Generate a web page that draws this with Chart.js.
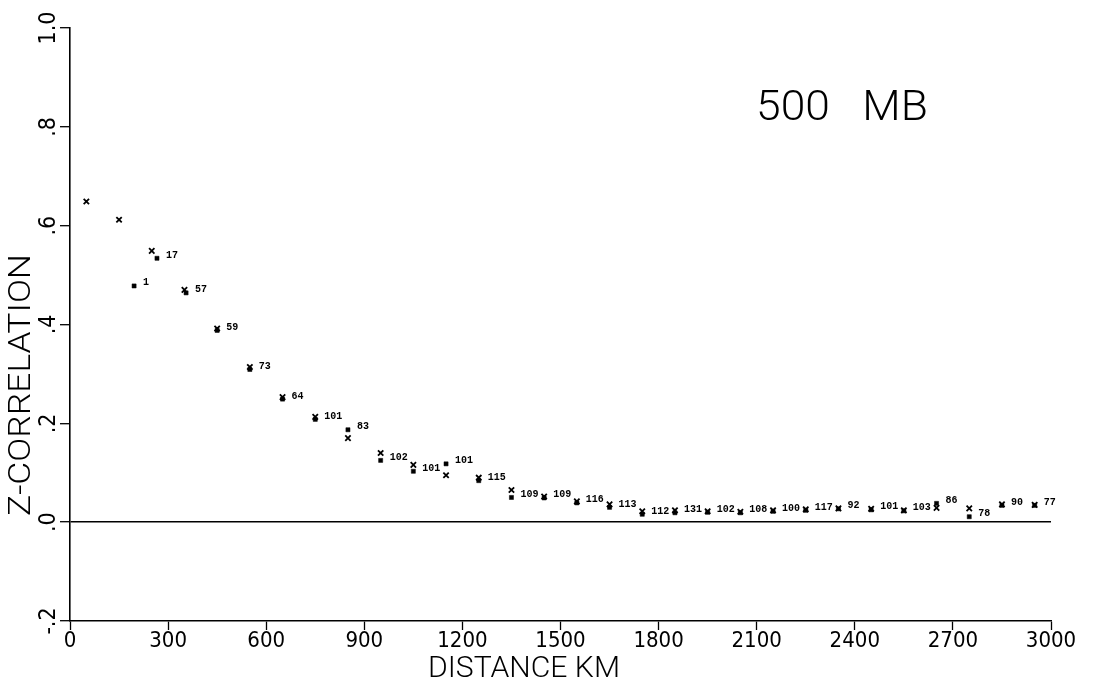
<!DOCTYPE html>
<html>
<head>
<meta charset="utf-8">
<title>500 MB Z-correlation vs distance</title>
<script src="https://cdn.jsdelivr.net/npm/chart.js@4.4.1/dist/chart.umd.min.js"></script>
<style>
  html, body { margin: 0; padding: 0; background: #fff; }
  #wrap { width: 1096px; height: 686px; position: relative; }
</style>
</head>
<body>
<div id="wrap"><canvas id="chart"></canvas></div>
<script>
// Axis ticks and their printed labels
const distanceTicks = [0, 300, 600, 900, 1200, 1500, 1800, 2100, 2400, 2700, 3000];
const xTickLabels = ['0', '300', '600', '900', '1200', '1500', '1800', '2100', '2400', '2700', '3000'];
const corrTicks = [-0.2, 0, 0.2, 0.4, 0.6, 0.8, 1.0];
const yTickLabels = ['-.2', '.0', '.2', '.4', '.6', '.8', '1.0'];

// "x" marks: correlation at the centre of each 100 km distance class
const crossDist = [50, 150, 250, 350, 450, 550, 650, 750, 850, 950, 1050, 1150, 1250, 1350, 1450,
                   1550, 1650, 1750, 1850, 1950, 2050, 2150, 2250, 2350, 2450, 2550, 2650, 2750, 2850, 2950];
const crossCorr = [0.649, 0.612, 0.549, 0.470, 0.392, 0.314, 0.253, 0.213, 0.170, 0.140, 0.116, 0.095, 0.090, 0.065, 0.052,
                   0.042, 0.036, 0.022, 0.024, 0.022, 0.021, 0.024, 0.026, 0.028, 0.027, 0.024, 0.029, 0.028, 0.036, 0.035];

// Filled squares: mean correlation of the station pairs in each class
const squareDist = [196, 266, 355, 450, 550, 650, 750, 850, 950, 1050, 1150, 1250, 1350, 1450,
                    1550, 1650, 1750, 1850, 1950, 2050, 2150, 2250, 2350, 2450, 2550, 2650, 2750, 2850, 2950];
const squareCorr = [0.478, 0.534, 0.464, 0.388, 0.309, 0.249, 0.208, 0.187, 0.125, 0.103, 0.118, 0.084, 0.050, 0.049,
                    0.039, 0.030, 0.016, 0.019, 0.020, 0.019, 0.022, 0.024, 0.027, 0.025, 0.023, 0.038, 0.011, 0.034, 0.034];

// Number of station pairs in each class, printed beside the squares
const pairCounts = ['1', '17', '57', '59', '73', '64', '101', '83', '102', '101', '101', '115', '109', '109',
                    '116', '113', '112', '131', '102', '108', '100', '117', '92', '101', '103', '86', '78', '90', '77'];

const tickFont = { family: '"Liberation Sans Narrow", "DejaVu Sans Condensed", Roboto, sans-serif', size: 22, lineHeight: 1 };
const yTickFont = { family: '"Liberation Sans Narrow", "DejaVu Sans Condensed", Roboto, sans-serif', size: 23, lineHeight: 1 };
const titleFamily = 'Roboto, "DejaVu Sans", sans-serif';

// Draw a text string squeezed/stretched to a given width, optionally rotated
function drawFitted(ctx, text, cx, cy, fontPx, width, rotation) {
  ctx.save();
  ctx.font = '300 ' + fontPx + 'px ' + titleFamily;
  const w = ctx.measureText(text).width;
  ctx.translate(cx, cy);
  ctx.rotate(rotation || 0);
  ctx.scale(width / w, 1);
  ctx.textAlign = 'center';
  ctx.textBaseline = 'middle';
  ctx.fillText(text, 0, 0);
  ctx.restore();
}

const annotate = {
  id: 'annotate',
  afterDatasetsDraw(chart) {
    const ctx = chart.ctx;
    const meta = chart.getDatasetMeta(1);
    ctx.save();
    ctx.fillStyle = '#000';
    ctx.font = 'bold 10px "Liberation Mono", "DejaVu Sans Mono", monospace';
    ctx.textAlign = 'left';
    ctx.textBaseline = 'middle';
    meta.data.forEach((pt, i) => {
      ctx.fillText(pairCounts[i], pt.x + 9, pt.y - 3);
    });
    ctx.restore();

    ctx.save();
    ctx.fillStyle = '#000';
    drawFitted(ctx, '500   MB', 842, 109, 43, 172, 0);
    drawFitted(ctx, 'DISTANCE KM', 524, 669, 30, 192, 0);
    drawFitted(ctx, 'Z-CORRELATION', 22, 385, 31, 262, -Math.PI / 2);
    ctx.restore();
  }
};

new Chart(document.getElementById('chart'), {
  type: 'scatter',
  data: {
    datasets: [
      {
        label: 'bin centre',
        data: crossDist.map((d, i) => ({ x: d, y: crossCorr[i] })),
        pointStyle: 'crossRot',
        pointRadius: 3.8,
        pointBorderWidth: 1.8,
        borderColor: '#000',
        backgroundColor: '#000'
      },
      {
        label: 'pair mean',
        data: squareDist.map((d, i) => ({ x: d, y: squareCorr[i] })),
        pointStyle: 'rect',
        pointRadius: 2.9,
        pointBorderWidth: 0.5,
        borderColor: '#000',
        backgroundColor: '#000'
      }
    ]
  },
  options: {
    responsive: true,
    maintainAspectRatio: false,
    animation: false,
    layout: { padding: { top: 28, right: 45, left: 0, bottom: 0 } },
    plugins: { legend: { display: false }, tooltip: { enabled: false } },
    scales: {
      x: {
        type: 'linear',
        min: 0,
        max: 3000,
        afterBuildTicks: s => { s.ticks = distanceTicks.map(v => ({ value: v })); },
        afterFit: s => { s.height = 65; },
        border: { display: true, color: '#000', width: 1.6 },
        grid: { drawOnChartArea: false, drawTicks: true, tickLength: 9, tickColor: '#000', tickWidth: 1.3 },
        ticks: {
          color: '#000',
          font: tickFont,
          padding: 0,
          maxRotation: 0,
          autoSkip: false,
          callback: (v, i) => xTickLabels[i]
        }
      },
      y: {
        type: 'linear',
        min: -0.2,
        max: 1.0,
        afterBuildTicks: s => { s.ticks = corrTicks.map(v => ({ value: v })); },
        afterFit: s => { s.width = 70; },
        border: { display: true, color: '#000', width: 1.6 },
        grid: {
          drawOnChartArea: true,
          drawTicks: true,
          tickLength: 10,
          tickColor: '#000',
          tickWidth: 1.3,
          lineWidth: 1.4,
          color: c => (c.tick && Math.abs(c.tick.value) < 1e-9) ? '#000' : 'rgba(0,0,0,0)'
        },
        ticks: {
          color: '#000',
          font: yTickFont,
          padding: -5,
          minRotation: 90,
          maxRotation: 90,
          crossAlign: 'center',
          autoSkip: false,
          callback: (v, i) => yTickLabels[i]
        }
      }
    }
  },
  plugins: [annotate]
});
</script>
</body>
</html>
